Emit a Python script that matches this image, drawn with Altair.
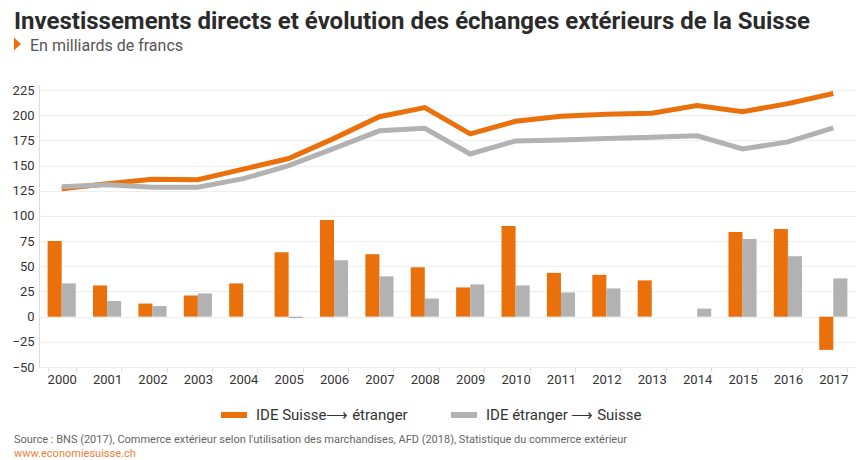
import altair as alt
import pandas as pd

years = [str(y) for y in range(2000, 2018)]
ide_ch_etr = [75, 31, 13, 21, 33, 64, 96, 62, 49, 29, 90, 43.5, 41.5, 36, None, 84, 87, -33]
ide_etr_ch = [33, 15.5, 10.5, 23, None, -1.5, 56, 40, 18, 32, 31, 24, 28, None, 8, 77, 60, 38]
line_orange = [127, 132, 136.5, 136, 146.5, 157, 177, 198.5, 207.5, 181.5, 194, 199, 201, 202, 209.5, 203.5, 211.5, 221.5]
line_gray = [129, 131, 128.5, 128.5, 137, 150, 167, 184.5, 187, 161.5, 174.5, 175.5, 177, 178, 179.5, 166.5, 173.5, 187.5]
y_ticks = [-50, -25, 0, 25, 50, 75, 100, 125, 150, 175, 200, 225]

s1 = "IDE Suisse\u27f6 étranger"
s2 = "IDE étranger \u27f6 Suisse"
l1 = "Exportations"
l2 = "Importations"

ORANGE = "#EA700C"
GRAY = "#B2B2B2"
FONT = "Roboto, sans-serif"

title_text = "Investissements directs et évolution des échanges extérieurs de la Suisse"
subtitle_text = "En milliards de francs"
source_text = "Source : BNS (2017), Commerce extérieur selon l'utilisation des marchandises, AFD (2018), Statistique du commerce extérieur"
url_text = "www.economiesuisse.ch"

bars_df = pd.DataFrame({
    "annee": years * 2,
    "serie": [s1] * len(years) + [s2] * len(years),
    "valeur": ide_ch_etr + ide_etr_ch,
})
lines_df = pd.DataFrame({
    "annee": years * 2,
    "ligne": [l1] * len(years) + [l2] * len(years),
    "valeur": line_orange + line_gray,
})

x_scale = alt.Scale(domain=years, paddingInner=0.38, paddingOuter=0.19)
y_scale = alt.Scale(domain=[-50, 230], nice=False, zero=False)

x_axis = alt.Axis(
    title=None, labelAngle=0, domain=False, ticks=True, tickBand="extent",
    tickSize=5, tickColor="#DDDDDD", labelFont=FONT, labelFontSize=13,
    labelColor="#333333", labelPadding=1, grid=False,
)
y_axis = alt.Axis(
    title=None, values=y_ticks, domain=True, domainColor="#DDDDDD",
    ticks=False, grid=True, gridColor="#EEEEEE", labelFont=FONT, labelFontSize=13,
    labelColor="#333333", labelPadding=5, labelOverlap=False,
)

bars = alt.Chart(bars_df).mark_bar().encode(
    x=alt.X("annee:N", scale=x_scale, axis=x_axis, sort=years),
    xOffset=alt.XOffset("serie:N", sort=[s1, s2], scale=alt.Scale(domain=[s1, s2], paddingInner=0, paddingOuter=0)),
    y=alt.Y("valeur:Q", scale=y_scale, axis=y_axis),
    color=alt.Color(
        "serie:N",
        scale=alt.Scale(domain=[s1, s2], range=[ORANGE, GRAY]),
        legend=alt.Legend(
            orient="none", legendX=182, legendY=317, direction="horizontal", title=None,
            symbolType="M-1,-0.23H1V0.23H-1Z", symbolSize=676, symbolStrokeWidth=0,
            labelFont=FONT, labelFontSize=15, labelColor="#333333",
            columnPadding=43, labelOffset=9,
        ),
    ),
)

lines = alt.Chart(lines_df).mark_line(strokeWidth=5).encode(
    x=alt.X("annee:N", scale=x_scale, axis=x_axis, sort=years),
    y=alt.Y("valeur:Q", scale=y_scale, axis=y_axis),
    color=alt.Color("ligne:N", scale=alt.Scale(domain=[l1, l2], range=[ORANGE, GRAY]), legend=None),
)

tri = alt.Chart(pd.DataFrame({"k": [0]})).mark_point(
    shape="M-0.55,-1L0.55,0L-0.55,1Z", filled=True, size=169, color=ORANGE, opacity=1
).encode(x=alt.value(-21.5), y=alt.value(-41))

sub = alt.Chart(pd.DataFrame({"t": [subtitle_text]})).mark_text(
    align="left", baseline="alphabetic", font=FONT, fontSize=16, color="#555555"
).encode(text="t:N", x=alt.value(-9), y=alt.value(-34))

foot1 = alt.Chart(pd.DataFrame({"t": [source_text]})).mark_text(
    align="left", baseline="alphabetic", font=FONT, fontSize=11, color="#666666"
).encode(text="t:N", x=alt.value(-25), y=alt.value(358))

foot2 = alt.Chart(pd.DataFrame({"t": [url_text]})).mark_text(
    align="left", baseline="alphabetic", font=FONT, fontSize=11, color="#EE7E3B"
).encode(text="t:N", x=alt.value(-25), y=alt.value(372))

chart = alt.layer(bars, lines, tri, sub, foot1, foot2).resolve_scale(
    color="independent"
).properties(
    width=817, height=282,
    padding={"left": 39, "top": 85, "right": 9, "bottom": 93},
    autosize=alt.AutoSizeParams(type="none"),
    title=alt.Title(
        text=title_text, anchor="start", frame="group",
        dx=-25, offset=4, font=FONT, fontSize=24, fontWeight="bold", color="#2B2B2B",
    ),
).configure_view(stroke=None)

chart.save("out.html", embed_options={"renderer": "svg", "actions": False})
